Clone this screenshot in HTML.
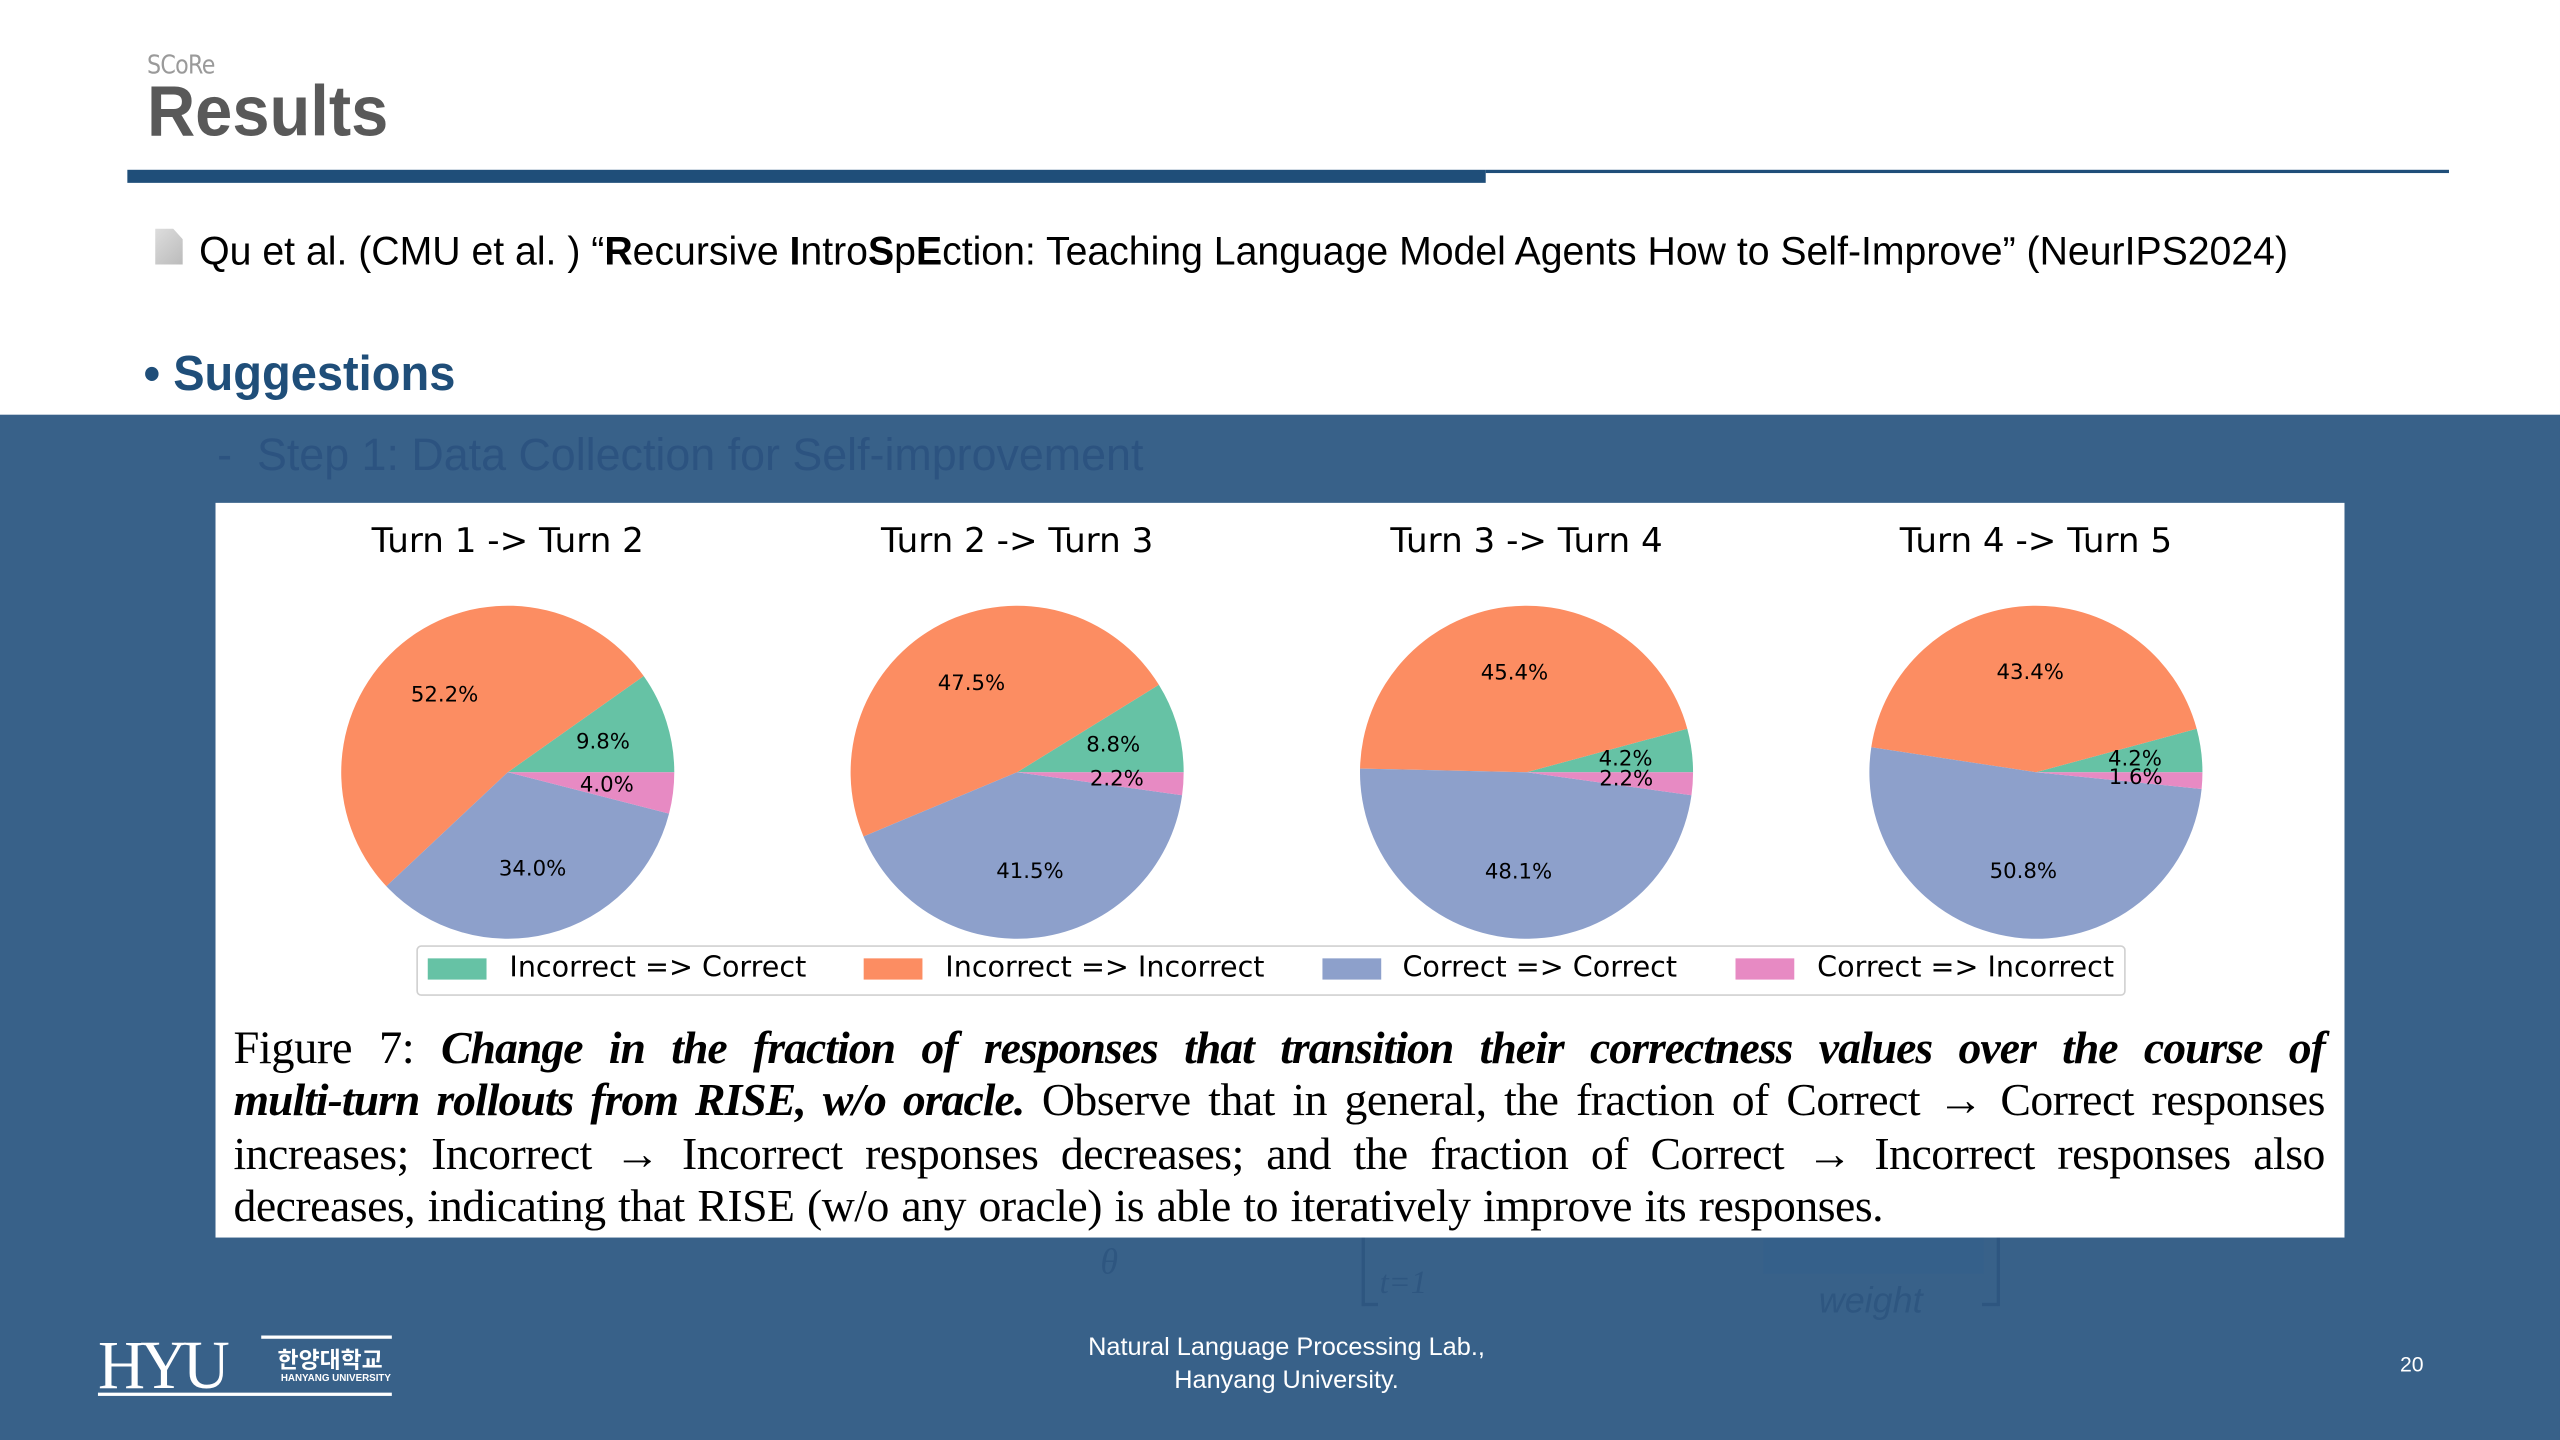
<!DOCTYPE html>
<html><head><meta charset="utf-8"><style>
html,body{margin:0;padding:0;width:2560px;height:1440px;overflow:hidden;background:#386189}
#s{position:absolute;left:0;top:0;width:1568px;height:882px;transform:scale(1.63265);transform-origin:0 0;background:#386189;font-family:"Liberation Sans",sans-serif}
.a{position:absolute;white-space:nowrap}
.cond{display:inline-block;transform-origin:0 50%}
.cap div{white-space:nowrap;text-align:justify;text-align-last:justify}
.cap b{letter-spacing:-0.6px}
</style></head><body><div id="s">
<div class="a" style="left:0;top:0;width:1568px;height:254px;background:#fff"></div>
<div class="a" style="left:90px;top:30px;font-size:16px;color:#9a9a9a;font-family:'DejaVu Sans',sans-serif;letter-spacing:-0.5px"><span class="cond" style="transform:scaleX(.85)">SCoRe</span></div>
<div class="a" style="left:90px;top:44px;font-size:44px;font-weight:bold;color:#595959"><span class="cond" style="transform:scaleX(.93)">Results</span></div>
<div class="a" style="left:78px;top:104px;width:832px;height:8px;background:#1f4e79"></div>
<div class="a" style="left:910px;top:104px;width:590px;height:1.5px;background:#1f4e79"></div>
<div class="a" style="left:95px;top:140px;width:17px;height:22px;background:linear-gradient(135deg,#ddd,#bbb);clip-path:polygon(0 0,65% 0,100% 30%,100% 100%,0 100%)"></div>
<div class="a" style="left:122px;top:141px;font-size:24.5px;color:#000"><span class="cond" style="transform:scaleX(.98)">Qu et al. (CMU et al. ) “<b>R</b>ecursive <b>I</b>ntro<b>S</b>p<b>E</b>ction: Teaching Language Model Agents How to Self-Improve” (NeurIPS2024)</span></div>
<div class="a" style="left:88px;top:213px;font-size:30px;font-weight:bold;color:#1f4e79"><span class="cond" style="transform:scaleX(.96)">• Suggestions</span></div>
<div class="a" style="left:133px;top:263px;font-size:28px;color:#2c5380"><span class="cond" style="transform:scaleX(.98)">-&nbsp; Step 1: Data Collection for Self-improvement</span></div>
<!-- faint formula -->
<div class="a" style="left:1080px;top:755px;width:135px;height:25px;background:#35608a"></div>
<div class="a" style="left:674px;top:760px;font-size:22px;font-style:italic;color:#2e5680;font-family:'Liberation Serif',serif">θ</div>
<div class="a" style="left:845px;top:775px;font-size:20px;font-style:italic;color:#2e5680;font-family:'Liberation Serif',serif">t=1</div>
<div class="a" style="left:834px;top:755px;width:2px;height:45px;background:#2e5680"></div>
<div class="a" style="left:834px;top:798px;width:10px;height:2px;background:#2e5680"></div>
<div class="a" style="left:1223px;top:755px;width:2px;height:45px;background:#2e5680"></div>
<div class="a" style="left:1214px;top:798px;width:10px;height:2px;background:#2e5680"></div>
<div class="a" style="left:1114px;top:784px;font-size:22px;font-style:italic;color:#2e5680">weight</div>
<!-- figure -->
<div class="a" style="left:132px;top:308px;width:1304px;height:450px;background:#fff"></div>
<svg class="a" id="pies" style="left:0;top:0" width="1568" height="882" font-family="DejaVu Sans, sans-serif"></svg>
<div class="a" style="left:255px;top:579px;width:1045px;height:29px;border:1px solid #d0d0d0;border-radius:3px;background:#fff"></div>
<div class="a" style="left:262px;top:587px;width:36px;height:13px;background:#66c2a5"></div>
<div class="a" style="left:529px;top:587px;width:36px;height:13px;background:#fc8d62"></div>
<div class="a" style="left:810px;top:587px;width:36px;height:13px;background:#8da0cb"></div>
<div class="a" style="left:1063px;top:587px;width:36px;height:13px;background:#e78ac3"></div>
<div class="a" style="left:312px;top:583px;font-size:17.5px;font-family:'DejaVu Sans',sans-serif">Incorrect =&gt; Correct</div>
<div class="a" style="left:579px;top:583px;font-size:17.5px;font-family:'DejaVu Sans',sans-serif">Incorrect =&gt; Incorrect</div>
<div class="a" style="left:859px;top:583px;font-size:17.5px;font-family:'DejaVu Sans',sans-serif">Correct =&gt; Correct</div>
<div class="a" style="left:1113px;top:583px;font-size:17.5px;font-family:'DejaVu Sans',sans-serif">Correct =&gt; Incorrect</div>
<div class="a cap" style="left:143px;top:627px;width:1281px;font-family:'Liberation Serif',serif;font-size:28px;letter-spacing:-0.3px;line-height:32.3px;color:#000;white-space:normal">
<div><span style="font-size:28.5px">Figure 7:</span> <b><i>Change in the fraction of responses that transition their correctness values over the course of</i></b></div>
<div><b><i>multi-turn rollouts from RISE, w/o oracle.</i></b> Observe that in general, the fraction of Correct → Correct responses</div>
<div>increases; Incorrect → Incorrect responses decreases; and the fraction of Correct → Incorrect responses also</div>
<div style="text-align:left;text-align-last:left;word-spacing:1px">decreases, indicating that RISE (w/o any oracle) is able to iteratively improve its responses.</div>
</div>
<!-- footer -->
<div class="a" style="left:60px;top:818px;width:100px;height:38px;color:#fff;font-family:'Liberation Serif',serif;font-size:42px;line-height:38px;letter-spacing:-3px"><span class="cond" style="transform:scaleX(.95)">HYU</span></div>
<div class="a" style="left:60px;top:853px;width:180px;height:2px;background:#fff"></div>
<div class="a" style="left:160px;top:818px;width:80px;height:2px;background:#fff"></div>
<div class="a" style="left:170px;top:823px;font-size:14px;color:#fff;font-family:'Liberation Sans','Noto Sans CJK KR',sans-serif;font-weight:bold">한양대학교</div>
<div class="a" style="left:172px;top:842px;font-size:6px;color:#fff;font-weight:bold">HANYANG UNIVERSITY</div>
<div class="a" style="left:588px;top:816px;width:400px;text-align:center;font-size:15.5px;line-height:20px;color:#fff">Natural Language Processing Lab.,<br>Hanyang University.</div>
<div class="a" style="left:1470px;top:828px;font-size:13px;color:#fff">20</div>
</div>
<script>
var svg=document.getElementById('pies'),h='';
var cols=['#66c2a5','#fc8d62','#8da0cb','#e78ac3'];
var data=[[9.8,52.2,34.0,4.0],[8.8,47.5,41.5,2.2],[4.2,45.4,48.1,2.2],[4.2,43.4,50.8,1.6]];
var titles=['Turn 1 -> Turn 2','Turn 2 -> Turn 3','Turn 3 -> Turn 4','Turn 4 -> Turn 5'];
var cxs=[311,623,935,1247],cy=473,r=102;
data.forEach(function(d,i){
 var cx=cxs[i],tot=d.reduce(function(a,b){return a+b},0),a0=0,lab='';
 h+='<text x="'+cx+'" y="338" font-size="20.9" text-anchor="middle">'+titles[i].replace(/>/g,'&gt;')+'</text>';
 d.forEach(function(v,j){
  var a1=a0+v/tot*2*Math.PI;
  var x0=cx+r*Math.cos(a0),y0=cy-r*Math.sin(a0),x1=cx+r*Math.cos(a1),y1=cy-r*Math.sin(a1);
  var large=(a1-a0)>Math.PI?1:0;
  h+='<path d="M'+cx+','+cy+' L'+x0+','+y0+' A'+r+','+r+' 0 '+large+' 0 '+x1+','+y1+' Z" fill="'+cols[j]+'"/>';
  var am=(a0+a1)/2;
  lab+='<text x="'+(cx+0.6*r*Math.cos(am))+'" y="'+(cy-0.6*r*Math.sin(am)+4)+'" font-size="13" text-anchor="middle">'+v.toFixed(1)+'%</text>';
  a0=a1;
 });
 h+=lab;
});
svg.innerHTML=h;
</script>
</body></html>
